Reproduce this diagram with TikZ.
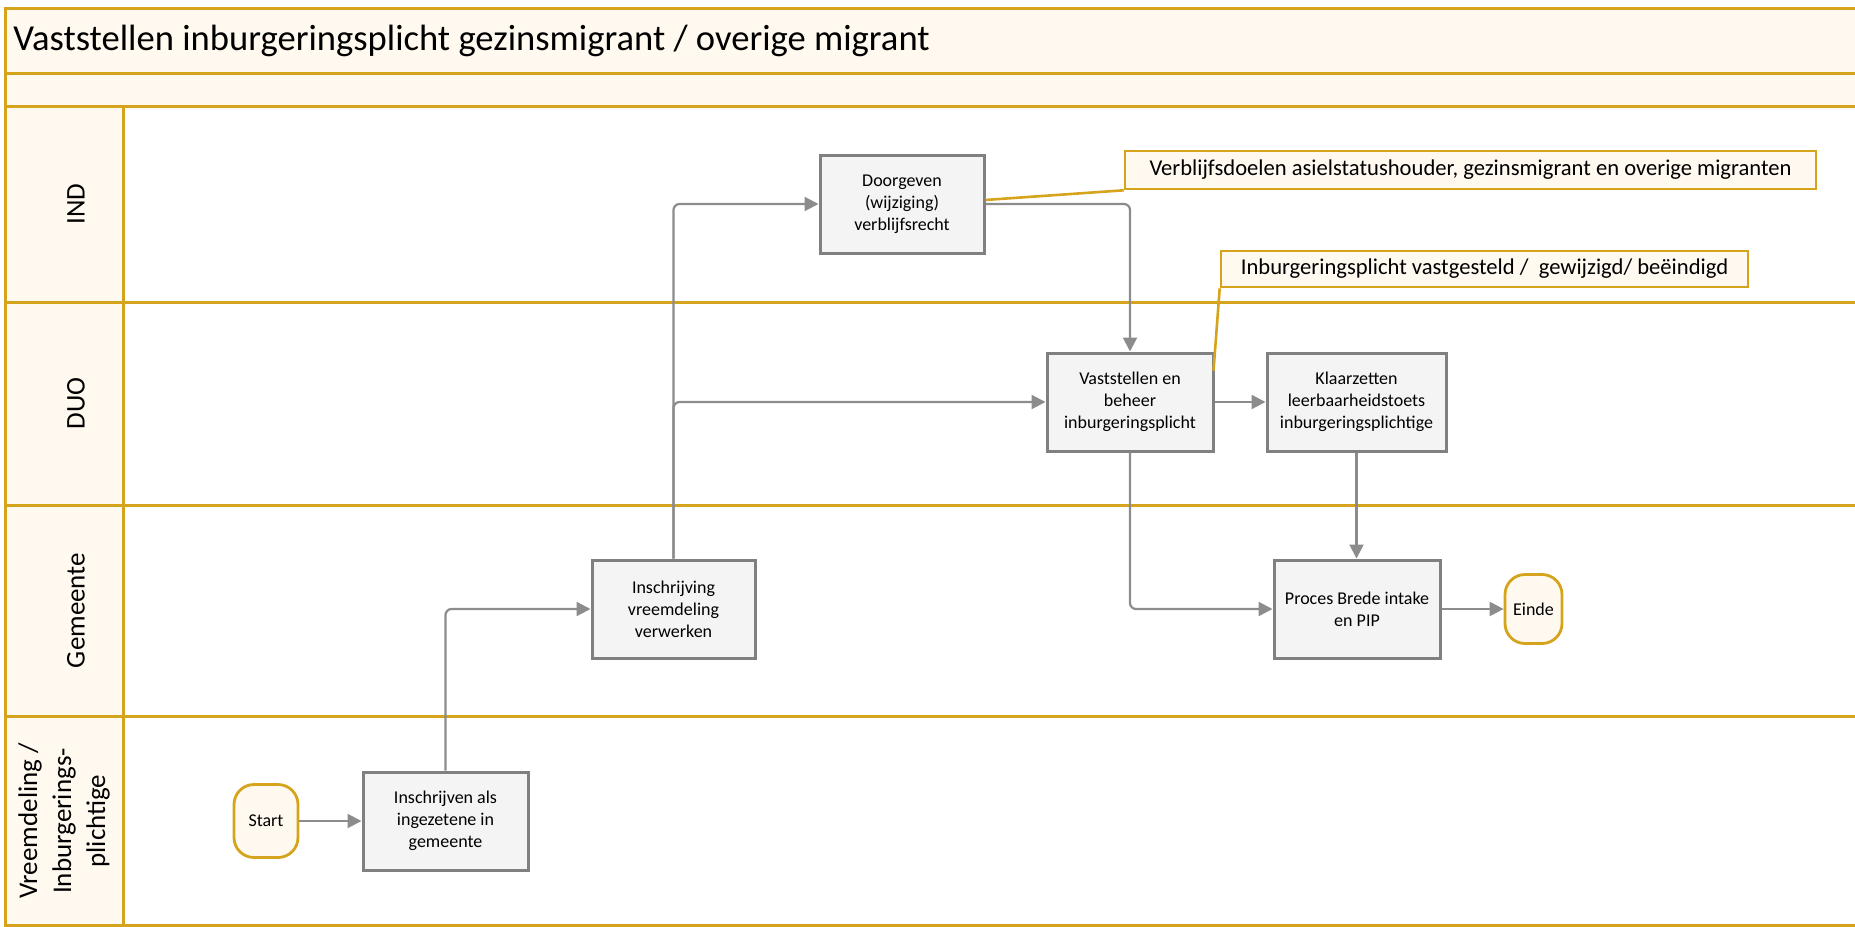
\documentclass[tikz,border=0pt]{standalone}
\usepackage{fontspec}
\setmainfont{Carlito}
\usetikzlibrary{arrows.meta,calc}
\definecolor{gold}{RGB}{214,164,28}
\definecolor{cream}{RGB}{255,249,240}
\definecolor{boxgray}{RGB}{128,128,128}
\definecolor{boxfill}{RGB}{244,244,244}
\definecolor{arrowgray}{RGB}{140,140,140}
\tikzset{
  frame/.style={draw=gold,line width=1.5pt},
  procbox/.style={draw=boxgray,fill=boxfill,line width=1.5pt,align=center,
    font=\fontsize{9}{11}\selectfont,inner sep=2pt,minimum height=49pt},
  terminal/.style={draw=gold,fill=cream,line width=1.4pt,rounded corners=10pt,
    font=\fontsize{9}{11}\selectfont,inner sep=1pt},
  callout/.style={draw=gold,fill=cream,line width=1.3pt,inner sep=0pt,
    font=\fontsize{11.3}{13}\selectfont},
  leader/.style={draw=gold,line width=1.3pt},
  flow/.style={draw=arrowgray,line width=1.1pt,rounded corners=3pt,
    -{Triangle[length=7pt,width=7pt]}},
  lanelabel/.style={rotate=90,align=center,font=\fontsize{13.5}{17}\selectfont}
}
\begin{document}
\begin{tikzpicture}[x=0.5pt,y=-0.5pt]
\useasboundingbox (0,0) rectangle (1855,926);
\clip (0,0) rectangle (1855,926);
% header bands
\path[fill=cream] (5,8) rectangle (1870,106);
\path[fill=cream] (5,106) rectangle (123,925);
\draw[frame] (5,8) rectangle (1870,925);
\draw[frame] (5,73) -- (1870,73);
\draw[frame] (5,106) -- (1870,106);
\draw[frame] (5,302) -- (1870,302);
\draw[frame] (5,505) -- (1870,505);
\draw[frame] (5,716) -- (1870,716);
\draw[frame] (123,106) -- (123,925);
\node[anchor=west,font=\fontsize{18.3}{22}\selectfont,inner sep=0pt] (title) at (13,41) {Vaststellen inburgeringsplicht gezinsmigrant / overige migrant};
% lane labels
\node[lanelabel] (lind) at (76,204) {IND};
\node[lanelabel] (lduo) at (76,403.5) {DUO};
\node[lanelabel] (lgem) at (76,610.5) {Gemeente};
\node[lanelabel] (lvre) at (64,821) {Vreemdeling /\\Inburgerings-\\plichtige};
% process boxes
\node[procbox,minimum width=82pt] (doorg) at (902,204) {Doorgeven\\(wijziging)\\verblijfsrecht};
\node[procbox,minimum width=83pt] (vast) at (1130,402) {Vaststellen en\\beheer\\inburgeringsplicht};
\node[procbox,minimum width=89.5pt] (klaar) at (1356.5,402) {Klaarzetten\\leerbaarheidstoets\\inburgeringsplichtige};
\node[procbox,minimum width=81.5pt] (inschr) at (673.5,609) {Inschrijving\\vreemdeling\\verwerken};
\node[procbox,minimum width=83pt] (proces) at (1357,609) {Proces Brede intake\\en PIP};
\node[procbox,minimum width=82.5pt] (inschrijven) at (445.5,821) {Inschrijven als\\ingezetene in\\gemeente};
\node[terminal,minimum width=32pt,minimum height=36.5pt] (start) at (266,821) {Start};
\node[terminal,minimum width=28.5pt,minimum height=34.5pt] (einde) at (1533.5,609) {Einde};
% callouts
\node[callout,minimum width=345.5pt,minimum height=19pt] (c1) at (1470.5,170) {Verblijfsdoelen asielstatushouder, gezinsmigrant en overige migranten};
\node[callout,minimum width=263.5pt,minimum height=18pt] (c2) at (1484.5,269) {Inburgeringsplicht vastgesteld /\ \ gewijzigd/ beëindigd};
\draw[leader] ($(doorg.north east)!0.46!(doorg.south east)$) -- (c1.south west);
\draw[leader] (c2.south west) -- ($(vast.north east)+(-0.5pt,-9.5pt)$);
% connectors
\draw[flow] (start) -- (inschrijven);
\draw[flow] (inschrijven.north) |- (inschr.west);
\draw[flow] (inschr.north) |- (doorg.west);
\draw[flow] (inschr.north) |- (vast.west);
\draw[flow] (doorg.east) -| (vast.north);
\draw[flow] (vast.east) -- (klaar.west);
\draw[flow] (vast.south) |- (proces.west);
\draw[flow] (klaar.south) -- (klaar.south |- proces.north);
\draw[flow] (proces.east) -- (einde.west);
\end{tikzpicture}
\end{document}
